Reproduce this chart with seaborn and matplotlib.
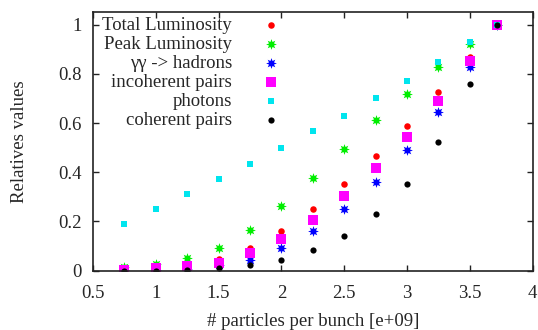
import matplotlib
matplotlib.use("Agg")
import matplotlib.pyplot as plt
import seaborn as sns
import pandas as pd

x = [0.75, 1.0, 1.25, 1.5, 1.75, 2.0, 2.25, 2.5, 2.75, 3.0, 3.25, 3.5, 3.72]
total_lumi = [0.005, 0.012, 0.024, 0.049, 0.094, 0.161, 0.25, 0.352, 0.467, 0.59, 0.725, 0.87, 1.0]
peak_lumi = [0.014, 0.029, 0.051, 0.094, 0.164, 0.262, 0.375, 0.493, 0.611, 0.72, 0.826, 0.922, 1.0]
hadrons = [0.001, 0.003, 0.008, 0.022, 0.045, 0.093, 0.161, 0.25, 0.36, 0.49, 0.646, 0.826, 1.0]
incoherent = [0.003, 0.010, 0.018, 0.033, 0.072, 0.129, 0.208, 0.304, 0.417, 0.543, 0.69, 0.853, 1.0]
photons = [0.191, 0.252, 0.313, 0.374, 0.435, 0.50, 0.566, 0.63, 0.70, 0.77, 0.847, 0.93, 1.0]
coherent = [0.0, 0.0005, 0.002, 0.01, 0.022, 0.045, 0.083, 0.143, 0.23, 0.354, 0.525, 0.757, 1.0]

labels = ["Total Luminosity", "Peak Luminosity", "γγ -> hadrons",
          "incoherent pairs", "photons", "coherent pairs"]
series = [total_lumi, peak_lumi, hadrons, incoherent, photons, coherent]
colors = ["#ff0000", "#00ee00", "#0000ff", "#ff00ff", "#00e5ee", "#000000"]
markers = ["o", (8, 1, 0), (8, 1, 0), "s", "s", "o"]
sizes = [22, 60, 60, 55, 24, 20]

x_ticks = [0.5, 1, 1.5, 2, 2.5, 3, 3.5, 4]
x_ticklabels = ["0.5", "1", "1.5", "2", "2.5", "3", "3.5", "4"]
y_ticks = [0, 0.2, 0.4, 0.6, 0.8, 1]
y_ticklabels = ["0", "0.2", "0.4", "0.6", "0.8", "1"]

sns.set_style("ticks")
plt.rcParams["font.family"] = ["Liberation Serif", "DejaVu Serif"]

fig = plt.figure(figsize=(5.38, 3.30), dpi=100)
ax = fig.add_axes([93 / 538, (330 - 270.7) / 330, (532.5 - 93) / 538, (270.7 - 12.3) / 330])

fs = 13.5
for lab, vals, c, m, s in zip(labels, series, colors, markers, sizes):
    df = pd.DataFrame({"x": x, "y": vals})
    sns.scatterplot(data=df, x="x", y="y", ax=ax, color=c, marker=m, s=s,
                    linewidth=0, label=lab, legend=True)

ax.set_xlim(0.5, 4)
ax.set_ylim(0, 1.05)
ax.set_xticks(x_ticks)
ax.set_xticklabels(x_ticklabels)
ax.set_yticks(y_ticks)
ax.set_yticklabels(y_ticklabels)
ax.tick_params(direction="in", length=4, width=1, top=True, right=True,
               labelsize=fs, color="#222222")
ax.tick_params(axis="x", pad=10.5)
ax.tick_params(axis="y", pad=8)
for sp in ax.spines.values():
    sp.set_linewidth(1.2)
    sp.set_color("#222222")
ax.set_xlabel("# particles per bunch [e+09]", fontsize=fs, labelpad=8)
ax.set_ylabel("Relatives values", fontsize=fs, labelpad=22)

leg = ax.legend(loc="upper left", markerfirst=False, frameon=False, fontsize=fs,
                handlelength=2.0, handletextpad=1.05, labelspacing=0.1,
                borderaxespad=0.0, borderpad=0.2, bbox_to_anchor=(0.013, 0.996))

fig.savefig("out.png", dpi=100)
